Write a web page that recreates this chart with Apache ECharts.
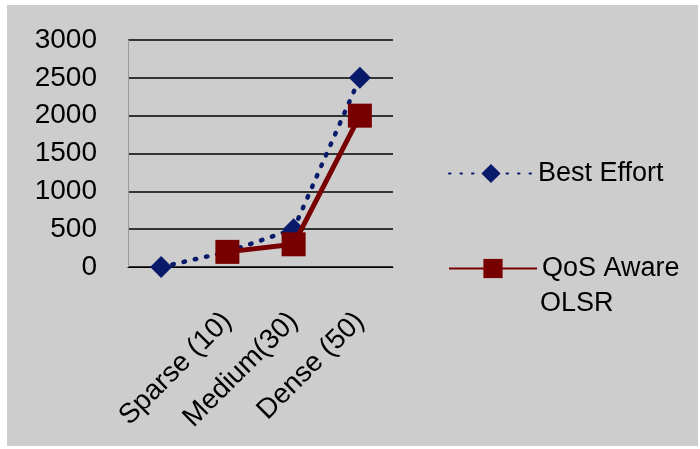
<!DOCTYPE html>
<html>
<head>
<meta charset="utf-8">
<style>
  html, body { margin: 0; padding: 0; background: #ffffff; }
  #panel { position: absolute; left: 7px; top: 5px; width: 691px; height: 441px; background: #cdcdcd; }
  #chart { position: absolute; left: 0; top: 0; width: 700px; height: 449px; }
</style>
<script src="https://cdn.jsdelivr.net/npm/echarts@6/dist/echarts.min.js"></script>
</head>
<body>
<div id="panel"></div>
<div id="chart"></div>
<script>
// Network density scenarios (first slot carries no label)
const categories = ['', 'Sparse (10)', 'Medium(30)', 'Dense (50)'];
const bestEffort = [0, 200, 500, 2500];
const qosAwareOlsr = [null, 200, 300, 2000];
const yTicks = { min: 0, max: 3000, step: 500 };

const FONT = 'Liberation Sans';
const chart = echarts.init(document.getElementById('chart'), null, { renderer: 'canvas' });

const legendText = { fontFamily: FONT, fontSize: 27, color: '#000' };

chart.setOption({
  backgroundColor: 'transparent',
  animation: false,
  grid: { left: 128, right: 307, top: 40, bottom: 182, containLabel: false },
  legend: [
    {
      data: ['Best Effort'],
      left: 443, top: 155,
      itemWidth: 84, itemHeight: 24,
      textStyle: legendText
    },
    {
      data: ['QoS Aware OLSR'],
      left: 443, top: 250,
      itemWidth: 88, itemHeight: 24,
      // first line sits beside the symbol; the wrapped word is drawn below it
      formatter: function () { return 'QoS Aware'; },
      textStyle: legendText
    }
  ],
  graphic: [
    {
      type: 'text',
      left: 540,
      top: 290,
      style: { text: 'OLSR', font: '27px "Liberation Sans"', fill: '#000' }
    }
  ],
  xAxis: {
    type: 'category',
    data: categories,
    boundaryGap: true,
    axisLine: { show: true, lineStyle: { color: '#000', width: 1 } },
    axisTick: { show: false },
    axisLabel: {
      interval: 0,
      rotate: 45,
      margin: 50,
      fontFamily: FONT,
      fontSize: 28,
      color: '#000'
    },
    splitLine: { show: false }
  },
  yAxis: {
    type: 'value',
    min: yTicks.min,
    max: yTicks.max,
    interval: yTicks.step,
    axisLine: { show: true, lineStyle: { color: '#9a9a9a', width: 1 } },
    axisTick: { show: false },
    axisLabel: {
      margin: 31,
      fontFamily: FONT,
      fontSize: 28,
      color: '#000',
      formatter: function (v) { return String(v); }
    },
    splitLine: { show: true, lineStyle: { color: '#000', width: 1.5 } }
  },
  series: [
    {
      name: 'Best Effort',
      type: 'line',
      data: bestEffort,
      symbol: 'diamond',
      symbolSize: 22,
      itemStyle: { color: '#0a1a6a' },
      lineStyle: { color: '#0a1a6a', width: 4.5, type: [1.5, 10], cap: 'round' },
      z: 2
    },
    {
      name: 'QoS Aware OLSR',
      type: 'line',
      data: qosAwareOlsr,
      symbol: 'rect',
      symbolSize: 24,
      itemStyle: { color: '#780000' },
      lineStyle: { color: '#780000', width: 5 },
      z: 3
    }
  ]
});
</script>
</body>
</html>
